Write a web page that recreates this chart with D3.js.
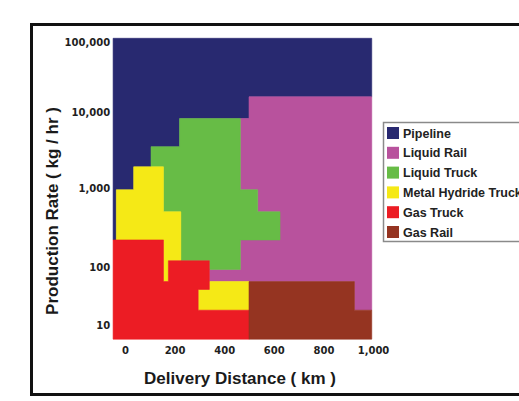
<!DOCTYPE html>
<html>
<head>
<meta charset="utf-8">
<script src="https://cdn.jsdelivr.net/npm/d3@7"></script>
<style>
  body { margin: 0; background: #fff; }
  svg { display: block; }
</style>
</head>
<body>
<svg id="chart" width="519" height="401"></svg>
<script>
// plot extent in data units (km, kg/hr)
const xExtent = [-48, 995];
const yExtent = [5.7, 113000];

const xTicks = [0, 200, 400, 600, 800, 1000];
const yTicks = [10, 100, 1000, 10000, 100000];

const modes = ['Pipeline', 'Liquid Rail', 'Liquid Truck', 'Metal Hydride Truck', 'Gas Truck', 'Gas Rail'];
const modeColors = ['#282970', '#b8529d', '#67bc46', '#f5e916', '#ec1c24', '#953421'];

// region outlines as [distance km, rate kg/hr]
const pipeline = [[-48, 113000], [995, 113000], [995, 16500], [500, 16500], [500, 8200], [220, 8200],
  [220, 3500], [105, 3500], [105, 1900], [35, 1900], [35, 950], [-35, 950], [-35, 220], [-48, 220]];
const liquidRail = [[500, 16500], [995, 16500], [995, 18], [925, 18], [925, 56], [340, 56], [340, 91],
  [465, 91], [465, 220], [625, 220], [625, 500], [535, 500], [535, 950], [465, 950], [465, 8200], [500, 8200]];
const liquidTruck = [[220, 8200], [465, 8200], [465, 950], [535, 950], [535, 500], [625, 500], [625, 220],
  [465, 220], [465, 91], [340, 91], [340, 120], [225, 120], [225, 500], [155, 500], [155, 1900],
  [105, 1900], [105, 3500], [220, 3500]];
const hydrideUpper = [[-35, 950], [35, 950], [35, 1900], [155, 1900], [155, 500], [225, 500], [225, 120],
  [175, 120], [175, 56], [155, 56], [155, 220], [-35, 220]];
const hydrideLower = [[340, 56], [500, 56], [500, 18], [295, 18], [295, 41], [340, 41]];
const gasTruck = [[-48, 220], [155, 220], [155, 56], [175, 56], [175, 120], [340, 120], [340, 41],
  [295, 41], [295, 18], [500, 18], [500, 5.7], [-48, 5.7]];
const gasRail = [[500, 56], [925, 56], [925, 18], [995, 18], [995, 5.7], [500, 5.7]];

const regions = [
  { mode: 'Pipeline', pts: pipeline },
  { mode: 'Liquid Rail', pts: liquidRail },
  { mode: 'Liquid Truck', pts: liquidTruck },
  { mode: 'Metal Hydride Truck', pts: hydrideUpper },
  { mode: 'Metal Hydride Truck', pts: hydrideLower },
  { mode: 'Gas Truck', pts: gasTruck },
  { mode: 'Gas Rail', pts: gasRail }
];

const svg = d3.select('#chart');

const x = d3.scaleLinear().domain([0, 1000]).range([125, 373]);
// tick labels in the source are not evenly spaced, so the log scale is piecewise
const y = d3.scaleLog().domain(yTicks).range([325, 267, 188, 112, 42]);
const color = d3.scaleOrdinal().domain(modes).range(modeColors);

// outer frame
svg.append('rect')
  .attr('x', 31.5).attr('y', 24.5)
  .attr('width', 600).attr('height', 370)
  .attr('fill', 'none')
  .attr('stroke', '#111')
  .attr('stroke-width', 3);

const line = d3.line()
  .x(d => x(d[0]))
  .y(d => y(d[1]))
  .curve(d3.curveLinearClosed);

svg.append('g')
  .selectAll('path')
  .data(regions)
  .join('path')
  .attr('d', d => line(d.pts))
  .attr('fill', d => color(d.mode))
  .attr('stroke', d => color(d.mode))
  .attr('stroke-width', 0.6);

// axes
const xAxis = svg.append('g')
  .attr('transform', 'translate(0,' + y(yExtent[0]) + ')')
  .call(d3.axisBottom(x).tickValues(xTicks).tickSize(0).tickPadding(8)
    .tickFormat(d3.format(',')));
const yAxis = svg.append('g')
  .attr('transform', 'translate(' + x(xExtent[0]) + ',0)')
  .call(d3.axisLeft(y).tickValues(yTicks).tickSize(0).tickPadding(3)
    .tickFormat(d3.format(',')));

[xAxis, yAxis].forEach(function (g) {
  g.select('.domain').remove();
  g.selectAll('text')
    .attr('fill', '#1e1e1e')
    .style('font-family', '"DejaVu Sans", sans-serif')
    .style('font-weight', 'bold')
    .style('font-size', '10px');
});

svg.append('text')
  .attr('x', 240).attr('y', 384)
  .attr('text-anchor', 'middle')
  .attr('fill', '#1a1a1a')
  .style('font-family', '"Liberation Sans", Arial, sans-serif')
  .style('font-weight', 'bold')
  .style('font-size', '17px')
  .text('Delivery Distance ( km )');

svg.append('text')
  .attr('transform', 'translate(58,211) rotate(-90)')
  .attr('text-anchor', 'middle')
  .attr('fill', '#1a1a1a')
  .style('font-family', '"Liberation Sans", Arial, sans-serif')
  .style('font-weight', 'bold')
  .style('font-size', '17px')
  .text('Production Rate ( kg / hr )');

// legend
const legend = svg.append('g').attr('transform', 'translate(383,122)');
legend.append('rect')
  .attr('x', 0.5).attr('y', 0.5)
  .attr('width', 200).attr('height', 119)
  .attr('fill', '#fff')
  .attr('stroke', '#8a8a8a')
  .attr('stroke-width', 1.5);

const item = legend.selectAll('g.item')
  .data(modes)
  .join('g')
  .attr('class', 'item')
  .attr('transform', (d, i) => 'translate(0,' + (11 + i * 19.8) + ')');
item.append('rect')
  .attr('x', 4).attr('y', -6)
  .attr('width', 12).attr('height', 12)
  .attr('fill', d => color(d));
item.append('text')
  .attr('x', 20).attr('y', 4.5)
  .attr('fill', '#222')
  .style('font-family', '"Liberation Sans", Arial, sans-serif')
  .style('font-weight', 'bold')
  .style('font-size', '12.5px')
  .text(d => d);
</script>
</body>
</html>
